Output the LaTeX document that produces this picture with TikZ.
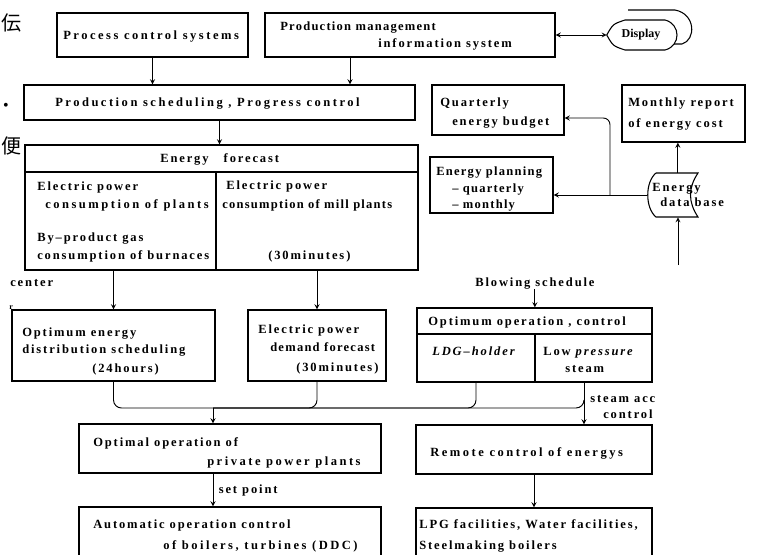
\documentclass[tikz,border=0pt]{standalone}
\usepackage{fontspec}
\setmainfont{Liberation Serif}
\newfontfamily\scanfont{Liberation Serif}[LetterSpace=15]
\newfontfamily\tightfont{Liberation Serif}[LetterSpace=10]
\newfontfamily\widefont{Liberation Serif}[LetterSpace=20]
\newfontfamily\cjkfont{Noto Sans CJK JP}
\usetikzlibrary{arrows,fit}
\tikzset{
	>=stealth,
	box/.style={rectangle, draw, line width=1pt, inner sep=0pt},
	txt/.style={anchor=base west, inner sep=0pt, font=\scanfont\bfseries\fontsize{9.4}{13.5}\selectfont},
	txtn/.style={txt, font=\tightfont\bfseries\fontsize{9.4}{13.5}\selectfont},
	txtw/.style={txt, font=\widefont\bfseries\fontsize{9.4}{13.5}\selectfont},
	link/.style={->, line width=0.7pt},
	busline/.style={line width=0.7pt, rounded corners=6pt}
}

\begin{document}
\begin{tikzpicture}[x=0.75pt, y=-0.75pt]
	\useasboundingbox (0,0) rectangle (764,554);
	\clip (0,0) rectangle (764,554);

	% --- Nodes ---
	\node[box, fit={(57,13) (248,57)}] (pcs) {};
	\node[txtw] (pcsT) at (63,39) {Process control systems};

	\node[box, fit={(265,13) (555,57)}] (pmis) {};
	\node[txtn] (pmisT1) at (280,30) {Production management};
	\node[txt] (pmisT2) at (378,47) {information system};

	\node[inner sep=0pt, fit={(607,20) (675,50)}] (disp) {};
	\draw[line width=0.8pt, fill=white] (628,10) -- (675,10) .. controls (696,14) and (696,40) .. (682,44) -- (670,44);
	\draw[line width=0.8pt, fill=white] (disp.west) .. controls (613,24) .. (625,20) -- (665,20)
		.. controls (681,24) and (681,46) .. (665,50) -- (625,50) .. controls (613,46) .. (disp.west) -- cycle;
	\node[font=\bfseries\fontsize{9}{11}\selectfont, inner sep=0pt] (dispT) at (641,35) {Display};

	\node[box, fit={(24,85) (415,120)}] (sched) {};
	\node[txtw] (schedT) at (55,106) {Production scheduling , Progress control};

	\node[box, fit={(25,145) (418,172)}] (efhd) {};
	\node[box, fit={(25,172) (216,270)}] (efl) {};
	\node[box, fit={(216,172) (418,270)}] (efr) {};
	\node[txt] (efhdT) at (160,162) {Energy\ \ \ forecast};
	\node[txt] (eflT1) at (37,190) {Electric power};
	\node[txtw] (eflT2) at (45,208) {consumption of plants};
	\node[txt] (eflT3) at (37,241) {By–product gas};
	\node[txt] (eflT4) at (37,259) {consumption of burnaces};
	\node[txt] (efrT1) at (226,189) {Electric power};
	\node[txtn] (efrT2) at (222,208) {consumption of mill plants};
	\node[txt] (efrT3) at (268,259) {(30minutes)};

	\node[box, fit={(432,85) (564,135)}] (quart) {};
	\node[txt] (quartT1) at (440,106) {Quarterly};
	\node[txt] (quartT2) at (452,125) {energy budget};

	\node[box, fit={(622,85) (745,142)}] (month) {};
	\node[txt] (monthT1) at (628,106) {Monthly report};
	\node[txt] (monthT2) at (628,127) {of energy cost};

	\node[box, fit={(430,157) (553,213)}] (plan) {};
	\node[txtn] (planT1) at (436,175) {Energy planning};
	\node[txtn] (planT2) at (452,192) {– quarterly};
	\node[txtn] (planT3) at (452,208) {– monthly};

	\node[inner sep=0pt, fit={(647,173) (698,217)}] (edb) {};
	\draw[line width=0.8pt] (656,173) -- (698,173) .. controls (688,188) and (688,202) .. (698,217) -- (656,217)
		.. controls (645,208) and (645,182) .. (656,173);
	\node[txt] (edbT1) at (652,191) {Energy};
	\node[txt] (edbT2) at (660,206) {data base};

	\node[txt] (centerT) at (10,286) {center};
	\node[txt, font=\scanfont\bfseries\fontsize{6}{8}\selectfont] (rT) at (9,309) {r};

	\node[txt] (blow) at (475,286) {Blowing schedule};

	\node[box, fit={(417,308) (652,334)}] (ophd) {};
	\node[box, fit={(417,334) (535,382)}] (ldg) {};
	\node[box, fit={(535,334) (652,382)}] (lp) {};
	\node[txt] (ophdT) at (428,325) {Optimum operation , control};
	\node[txt] (ldgT) at (432,355) {\itshape LDG–holder};
	\node[txt] (lpT1) at (543,355) {Low \itshape pressure};
	\node[txt] (lpT2) at (565,372) {steam};

	\node[box, fit={(12,310) (215,381)}] (oeds) {};
	\node[txt] (oedsT1) at (22,336) {Optimum energy};
	\node[txt] (oedsT2) at (22,353) {distribution scheduling};
	\node[txt] (oedsT3) at (92,372) {(24hours)};

	\node[box, fit={(248,310) (386,381)}] (epdf) {};
	\node[txt] (epdfT1) at (258,333) {Electric power};
	\node[txtn] (epdfT2) at (270,351) {demand forecast};
	\node[txt] (epdfT3) at (296,371) {(30minutes)};

	\node[txt] (accT1) at (590,402) {steam acc};
	\node[txt] (accT2) at (603,418) {control};

	\node[box, fit={(79,424) (381,473)}] (opoo) {};
	\node[txt] (opooT1) at (93,446) {Optimal operation of};
	\node[txtw] (opooT2) at (207,465) {private power plants};

	\node[box, fit={(79,507) (381,580)}] (auto) {};
	\node[txt] (autoT1) at (93,528) {Automatic operation control};
	\node[txtw] (autoT2) at (163,549) {of boilers, turbines (DDC)};

	\node[box, fit={(416,425) (652,474)}] (remote) {};
	\node[txtw] (remoteT) at (430,456) {Remote control of energys};

	\node[box, fit={(416,508) (652,580)}] (lpg) {};
	\node[txt] (lpgT1) at (419,528) {LPG facilities, Water facilities,};
	\node[txt] (lpgT2) at (419,549) {Steelmaking boilers};

	\node[font=\cjkfont\fontsize{15}{15}\selectfont, inner sep=0pt] (kanji1) at (12,23) {伝};
	\node[font=\fontsize{12}{12}\selectfont, inner sep=0pt] (dot) at (6,107) {•};
	\node[font=\cjkfont\fontsize{15}{15}\selectfont, inner sep=0pt] (kanji2) at (12,146) {便};

	\coordinate (split) at (610,195);
	\coordinate (dbin) at (678,265);
	\coordinate (bus) at (213,408);
	\coordinate (lpout) at (584,382);

	% --- Connections ---
	\draw[link] (pcs.south) -- (pcs.south |- sched.north);
	\draw[link] ([xshift=-45pt]pmis.south) -- ([xshift=-45pt]pmis.south |- sched.north);
	\draw[<->, line width=0.7pt] (pmis.east) -- (disp.west);
	\draw[link] (sched.south) -- (sched.south |- efhd.north);

	\draw[link] (oeds.north |- efl.south) -- (oeds.north);
	\draw[link] (epdf.north |- efr.south) -- (epdf.north);

	\draw[link] ([xshift=4pt]edb.north) -- ([xshift=4pt]edb.north |- month.south);
	\draw[link] (edb.west) -- (edb.west -| plan.east);
	\draw[link, rounded corners=5pt] (split) |- ([yshift=-6pt]quart.east);
	\draw[link] (dbin) -- (dbin |- edb.south);

	\draw[link] (blow.south) -- (blow.south |- ophd.north);

	\draw[busline] (oeds.south) |- (bus) -- (bus -| lpout) -- ([yshift=6pt]bus -| lpout);
	\draw[busline] (epdf.south) |- (bus);
	\draw[busline] (ldg.south) |- (bus);
	\draw[link] (bus) -- (bus |- opoo.north);
	\draw[link] (lpout) -- (lpout |- remote.north);

	\draw[link] (bus |- opoo.south) -- node[txt, anchor=west, xshift=4pt] (setpt) {set point} (bus |- auto.north);
	\draw[link] (remote.south) -- (lpg.north);

\end{tikzpicture}
\end{document}
